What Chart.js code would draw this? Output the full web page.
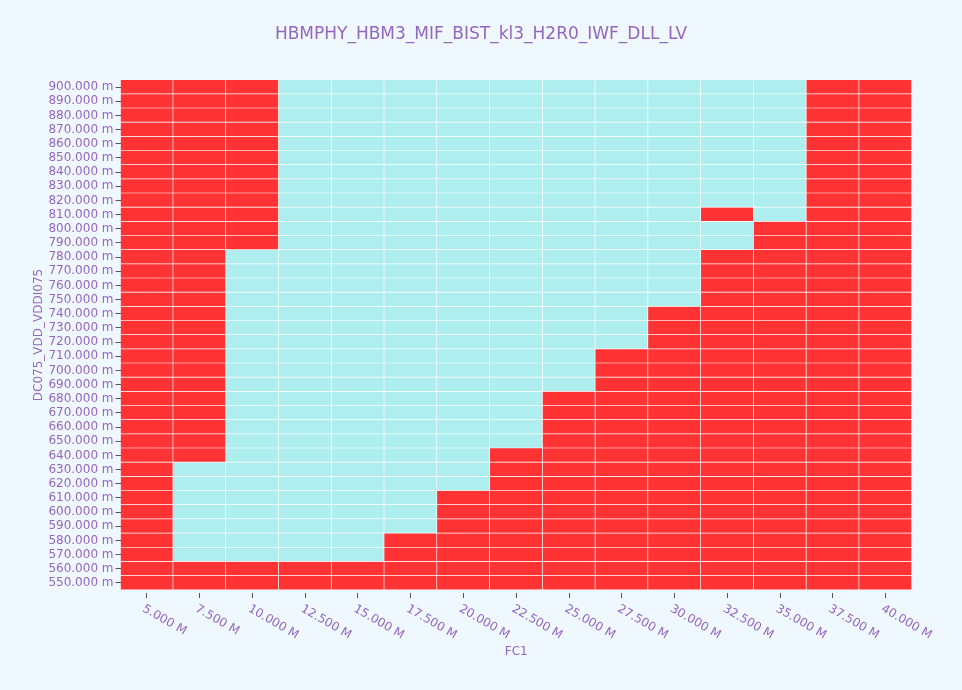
<!DOCTYPE html>
<html>
<head>
<meta charset="utf-8">
<script src="https://cdn.jsdelivr.net/npm/chart.js@4.4.0/dist/chart.umd.min.js"></script>
<style>
  html, body { margin: 0; padding: 0; background: #f0f8ff; }
  #wrap { width: 962px; height: 690px; }
</style>
</head>
<body>
<div id="wrap"><canvas id="myChart"></canvas></div>
<script>
// FC1 categories (x) and DC075_VDD_VDDI075 rows (y, in mV)
var xLabels = ['5.000 M', '7.500 M', '10.000 M', '12.500 M', '15.000 M', '17.500 M', '20.000 M',
    '22.500 M', '25.000 M', '27.500 M', '30.000 M', '32.500 M', '35.000 M', '37.500 M', '40.000 M'];
var yValues = [550, 560, 570, 580, 590, 600, 610, 620, 630, 640, 650, 660, 670, 680, 690, 700,
    710, 720, 730, 740, 750, 760, 770, 780, 790, 800, 810, 820, 830, 840, 850, 860, 870, 880, 890, 900];

// pass window per FC1 column (null = fails everywhere)
var passFrom = [null, 570, 570, 570, 570, 590, 620, 650, 690, 720, 750, 790, 810, null, null];
var passTo   = [null, 630, 780, 900, 900, 900, 900, 900, 900, 900, 900, 900, 900, null, null];
// single failing cells inside a pass window
var failCells = [['32.500 M', 810]];

var chartTitle = 'HBMPHY_HBM3_MIF_BIST_kl3_H2R0_IWF_DLL_LV';
var passColor = '#afeeee';
var failColor = '#ff3333';
var textColor = '#9467bd';
var fontFamily = 'DejaVu Sans';

function isPass(col, y) {
    if (passFrom[col] === null) return false;
    if (y < passFrom[col] || y > passTo[col]) return false;
    for (var k = 0; k < failCells.length; k++) {
        if (failCells[k][0] === xLabels[col] && failCells[k][1] === y) return false;
    }
    return true;
}

var datasets = yValues.map(function (y) {
    return {
        label: y,
        data: xLabels.map(function () { return [y - 5, y + 5]; }),
        backgroundColor: xLabels.map(function (l, i) { return isPass(i, y) ? passColor : failColor; }),
        borderColor: '#ffffff',
        borderWidth: { top: 0, right: 1, bottom: 1, left: 0 },
        borderSkipped: false
    };
});

// title centred on the page and x labels slanted clockwise, like the original
var extraText = {
    id: 'extraText',
    afterDraw: function (chart) {
        var ctx = chart.ctx;
        var xs = chart.scales.x;
        ctx.save();
        ctx.fillStyle = textColor;
        ctx.font = '17px "' + fontFamily + '"';
        ctx.textAlign = 'center';
        ctx.textBaseline = 'middle';
        ctx.fillText(chartTitle, chart.width / 2, 35);

        ctx.font = '12px "' + fontFamily + '"';
        ctx.textAlign = 'left';
        xLabels.forEach(function (l, i) {
            var px = xs.getPixelForTick(i);
            ctx.save();
            ctx.translate(px - 3.5, chart.chartArea.bottom + 18);
            ctx.rotate(Math.PI / 6);
            ctx.fillText(l, 0, 0);
            ctx.restore();
        });
        ctx.restore();
    }
};

Chart.defaults.font.family = fontFamily;
Chart.defaults.color = textColor;

var ctx = document.getElementById('myChart').getContext('2d');
var myChart = new Chart(ctx, {
    type: 'bar',
    data: { labels: xLabels, datasets: datasets },
    plugins: [extraText],
    options: {
        responsive: true,
        maintainAspectRatio: false,
        animation: false,
        layout: { padding: { left: 32, right: 50, top: 80, bottom: 27 } },
        datasets: { bar: { grouped: false, barPercentage: 1, categoryPercentage: 1 } },
        plugins: {
            legend: { display: false },
            tooltip: { enabled: false },
            title: { display: false }
        },
        scales: {
            x: {
                offset: true,
                grid: { offset: false, drawOnChartArea: false, tickLength: 8, color: '#555', tickBorderDash: [0, 3, 5, 50] },
                border: { display: false },
                ticks: { color: 'rgba(0,0,0,0)', font: { size: 12 }, minRotation: 30, maxRotation: 30, autoSkip: false },
                title: { display: true, text: 'FC1', color: textColor, font: { size: 12 }, padding: { top: 0 } }
            },
            y: {
                min: 545,
                max: 905,
                afterBuildTicks: function (axis) {
                    axis.ticks = yValues.map(function (v) { return { value: v }; });
                },
                grid: { drawOnChartArea: false, tickLength: 5, color: '#555' },
                border: { display: false },
                ticks: {
                    color: textColor,
                    font: { size: 12 },
                    padding: 2,
                    autoSkip: false,
                    callback: function (v) { return v.toFixed(3) + ' m'; }
                },
                title: { display: true, text: 'DC075_VDD_VDDI075', color: textColor, font: { size: 12 }, padding: 0 }
            }
        }
    }
});
</script>
</body>
</html>
